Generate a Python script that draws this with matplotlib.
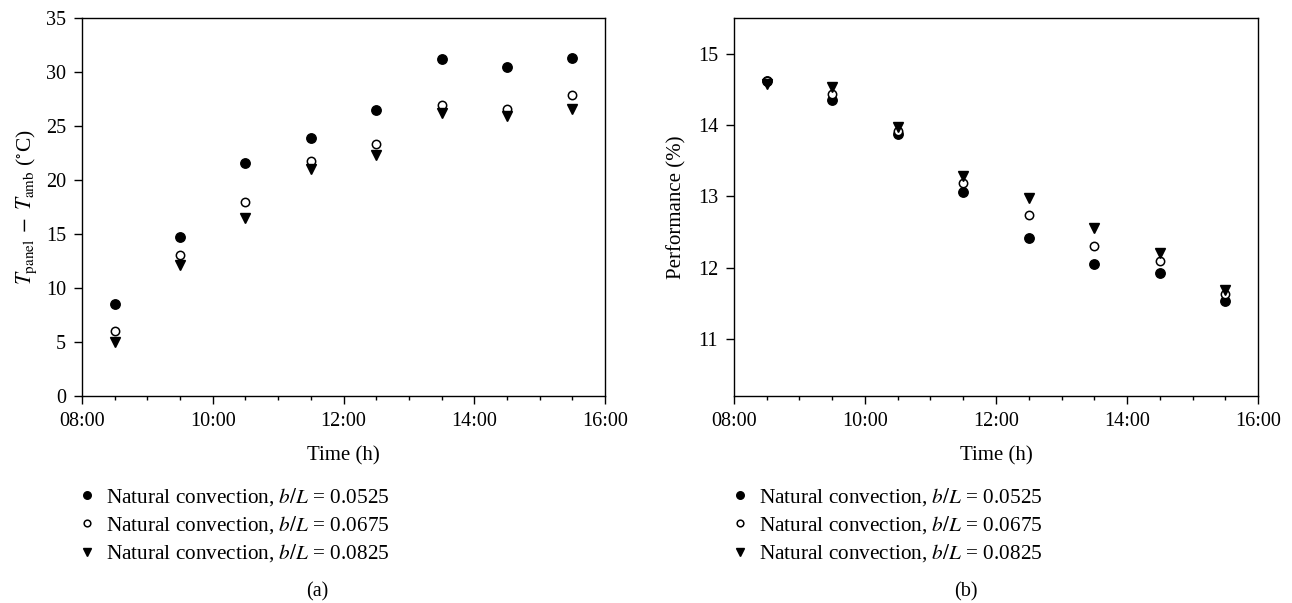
import matplotlib
matplotlib.use("Agg")
import matplotlib.pyplot as plt
from matplotlib.ticker import MultipleLocator, FuncFormatter

plt.rcParams['font.family'] = ['Liberation Serif', 'DejaVu Serif']
plt.rcParams['mathtext.fontset'] = 'stix'

times = ["08:30", "09:30", "10:30", "11:30", "12:30", "13:30", "14:30", "15:30"]
hours = [int(t[:2]) + int(t[3:]) / 60 for t in times]

labels = ["Natural convection, $b/L$ = 0.0525",
          "Natural convection, $b/L$ = 0.0675",
          "Natural convection, $b/L$ = 0.0825"]

# panel (a): T_panel - T_amb
dT_0525 = [8.5, 14.7, 21.6, 23.9, 26.5, 31.2, 30.5, 31.3]
dT_0675 = [6.0, 13.1, 18.0, 21.8, 23.3, 26.9, 26.6, 27.9]
dT_0825 = [5.0, 12.1, 16.5, 21.0, 22.3, 26.2, 25.9, 26.6]

# panel (b): performance
perf_0525 = [14.62, 14.35, 13.87, 13.06, 12.41, 12.05, 11.92, 11.53]
perf_0675 = [14.62, 14.44, 13.92, 13.19, 12.74, 12.30, 12.09, 11.63]
perf_0825 = [14.57, 14.53, 13.97, 13.29, 12.98, 12.55, 12.21, 11.69]

styles = [dict(marker='o', color='black', mfc='black', ms=6.8),
          dict(marker='o', color='black', mfc='white', ms=6, mew=1.1),
          dict(marker='v', color='black', mfc='black', ms=6.8)]


def hhmm(x, pos):
    return "{:02d}:00".format(int(round(x)))


fig = plt.figure(figsize=(12.92, 6.03), dpi=100)
ax1 = fig.add_axes([0.0635, 0.3433, 0.4048, 0.6269])
ax2 = fig.add_axes([0.5681, 0.3433, 0.4056, 0.6269])

for ax, series in [(ax1, [dT_0525, dT_0675, dT_0825]),
                   (ax2, [perf_0525, perf_0675, perf_0825])]:
    for y, st, lab in zip(series, styles, labels):
        ax.plot(hours, y, linestyle='none', label=lab, **st)
    ax.set_xlim(8, 16)
    ax.xaxis.set_major_locator(MultipleLocator(2))
    ax.xaxis.set_minor_locator(MultipleLocator(0.5))
    ax.xaxis.set_major_formatter(FuncFormatter(hhmm))
    ax.tick_params(which='major', direction='out', length=5.5, width=1, labelsize=14.5, pad=6)
    ax.tick_params(which='minor', direction='out', length=3, width=1)
    for s in ax.spines.values():
        s.set_linewidth(1)
    ax.set_xlabel("Time (h)", fontsize=15, labelpad=11)

ax1.set_ylim(0, 35)
ax1.yaxis.set_major_locator(MultipleLocator(5))
ax1.set_ylabel(r"$T_{\mathrm{panel}}\;-\;T_{\mathrm{amb}}$ ($^{\circ}$C)", fontsize=15.5, labelpad=5)

ax2.set_ylim(10.2, 15.5)
ax2.set_yticks([11, 12, 13, 14, 15])
ax2.set_ylabel("Performance (%)", fontsize=15, labelpad=8)

for ax, x0 in [(ax1, 76 / 1292), (ax2, 729 / 1292)]:
    h, l = ax.get_legend_handles_labels()
    leg = ax.legend(h, l, loc='upper left', bbox_to_anchor=(x0, 1 - 486 / 603),
                    bbox_transform=fig.transFigure, frameon=False, fontsize=15.3,
                    handlelength=1.0, handletextpad=0.4, labelspacing=0.3,
                    borderpad=0, borderaxespad=0, markerscale=0.8)

fig.text(317 / 1292, 1 - 592 / 603, "(a)", ha='center', va='center', fontsize=14.5)
fig.text(966 / 1292, 1 - 592 / 603, "(b)", ha='center', va='center', fontsize=14.5)

fig.savefig("out.png", dpi=100)
